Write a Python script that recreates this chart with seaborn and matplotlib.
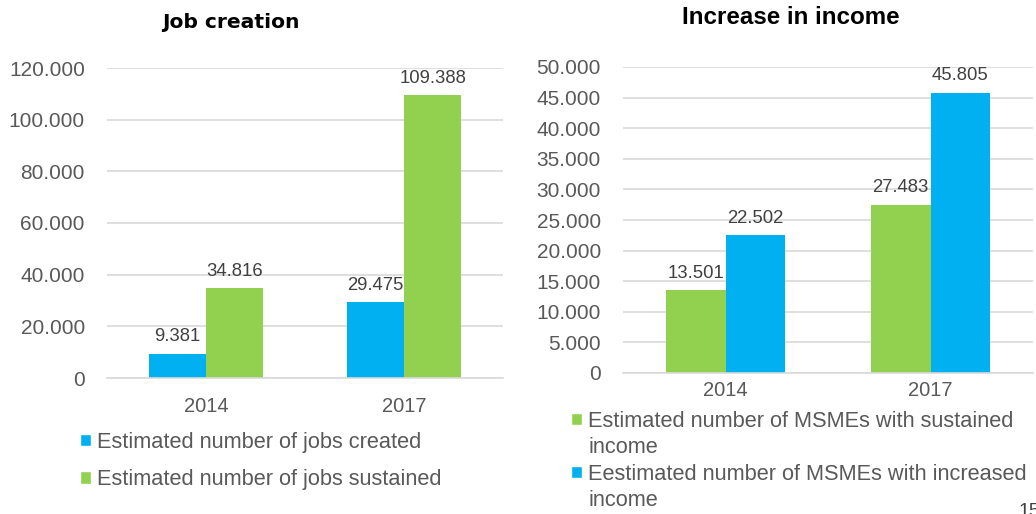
import matplotlib
matplotlib.use("Agg")
import matplotlib.pyplot as plt
import seaborn as sns
import pandas as pd
from matplotlib.patches import Patch

years = ["2014", "2017"]
jobs_created = [9381, 29475]
jobs_sustained = [34816, 109388]
msme_sustained = [13501, 27483]
msme_increased = [22502, 45805]

left_series = ["Estimated number of jobs created", "Estimated number of jobs sustained"]
right_series = ["Estimated number of MSMEs with sustained\nincome",
                "Eestimated number of MSMEs with increased\nincome"]
left_ticks = [0, 20000, 40000, 60000, 80000, 100000, 120000]
right_ticks = list(range(0, 50001, 5000))

BLUE = "#00B0F0"
GREEN = "#92D050"
TXT = "#595959"
GRID = "#D9D9D9"

sns.set_theme(style="white")
plt.rcParams["font.family"] = ["Liberation Sans", "DejaVu Sans"]

def dotfmt(v):
    return f"{v:,.0f}".replace(",", ".")

df_left = pd.DataFrame({
    "year": years * 2,
    "value": jobs_created + jobs_sustained,
    "series": [left_series[0]] * 2 + [left_series[1]] * 2,
})
df_right = pd.DataFrame({
    "year": years * 2,
    "value": msme_sustained + msme_increased,
    "series": [right_series[0]] * 2 + [right_series[1]] * 2,
})

fig = plt.figure(figsize=(10.36, 5.14), dpi=100)
axL = fig.add_axes([107/1036, 1-378/514, 396/1036, 310/514])
axR = fig.add_axes([623/1036, 1-373/514, 410/1036, 306/514])

def draw(ax, df, order, palette, ticks, ylim, xpad):
    sns.barplot(data=df, x="year", y="value", hue="series", hue_order=order,
                palette=palette, width=0.58, saturation=1, ax=ax, legend=False,
                edgecolor="none", linewidth=0, errorbar=None)
    ax.set_ylim(0, ylim)
    ax.set_xlim(-0.5, 1.5)
    ax.set_yticks(ticks)
    ax.set_yticklabels([dotfmt(t) for t in ticks])
    ax.set_xlabel("")
    ax.set_ylabel("")
    ax.yaxis.grid(True, color=GRID, linewidth=1.2)
    ax.set_axisbelow(True)
    for s in ["top", "right", "left"]:
        ax.spines[s].set_visible(False)
    ax.spines["bottom"].set_color(GRID)
    ax.spines["bottom"].set_linewidth(1.2)
    ax.tick_params(axis="y", length=0, pad=16, labelsize=15, labelcolor=TXT)
    ax.tick_params(axis="x", length=0, pad=xpad, labelsize=14.5, labelcolor=TXT)
    for c in ax.containers:
        ax.bar_label(c, labels=[dotfmt(v) for v in c.datavalues], padding=6,
                     fontsize=13.3, color="#404040")

draw(axL, df_left, left_series, [BLUE, GREEN], left_ticks, 120000, 14)
draw(axR, df_right, right_series, [GREEN, BLUE], right_ticks, 50000, 6)

fig.text(231/1036, 1-22/514, "Job creation", ha="center", va="center",
         fontsize=14.6, fontweight="bold", family="DejaVu Sans", color="black")
fig.text(791/1036, 1-18/514, "Increase in income", ha="center", va="center",
         fontsize=17.4, fontweight="bold", color="black")

hL = [Patch(facecolor=BLUE), Patch(facecolor=GREEN)]
fig.legend(hL, left_series, loc="upper left", bbox_to_anchor=(80/1036, 1-432/514),
           frameon=False, fontsize=15.7, labelcolor=TXT, handlelength=0.5,
           handleheight=0.5, handletextpad=0.3, labelspacing=0.74, borderpad=0,
           borderaxespad=0)

# Right legend: marker beside the first line of each wrapped label
r_labels = []
r_handles = []
for lab, col in zip(right_series, [GREEN, BLUE]):
    parts = lab.split("\n")
    r_labels.append(parts[0])
    r_handles.append(Patch(facecolor=col))
    for p in parts[1:]:
        r_labels.append(p)
        r_handles.append(Patch(facecolor="none", edgecolor="none"))
fig.legend(r_handles, r_labels, loc="upper left", bbox_to_anchor=(571/1036, 1-411/514),
           frameon=False, fontsize=15.7, labelcolor=TXT, handlelength=0.5,
           handleheight=0.5, handletextpad=0.3, labelspacing=0.25, borderpad=0,
           borderaxespad=0)

fig.text(1018/1036, -6/514, "15", ha="left", va="bottom", fontsize=14, color="#404040")

fig.savefig("out.png", dpi=100)
